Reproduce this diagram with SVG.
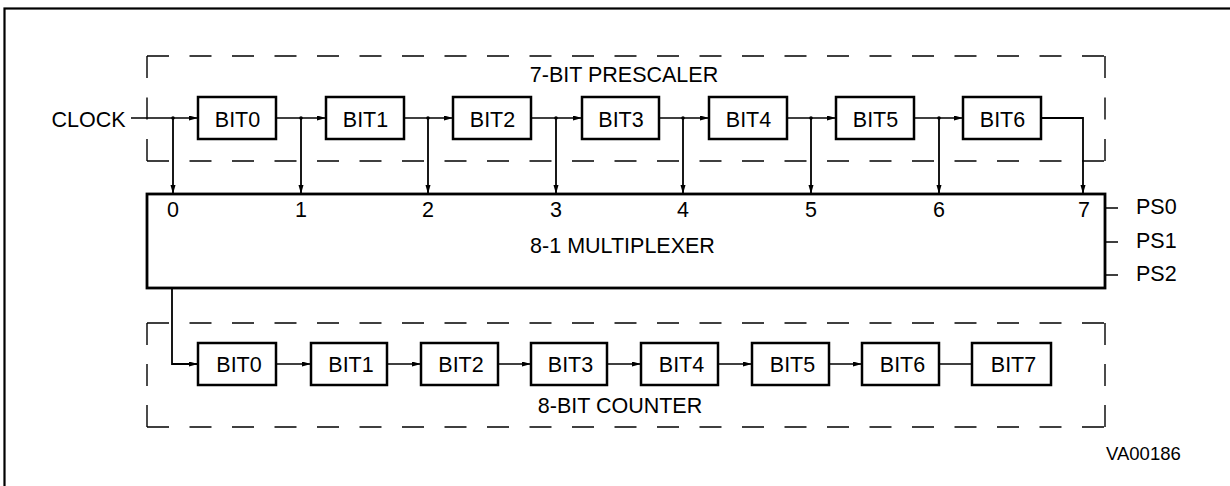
<svg xmlns="http://www.w3.org/2000/svg" width="1230" height="486" viewBox="0 0 1230 486">
<defs>
<marker id="ah" markerUnits="userSpaceOnUse" markerWidth="9" markerHeight="6" refX="9" refY="2.5" orient="auto">
<path d="M0,0 L9,2.5 L0,5 z" fill="#000"/>
</marker>
<style>
text{font-family:"Liberation Sans",Arial,sans-serif;font-size:21.5px;fill:#000}
.box{fill:#fff;stroke:#000;stroke-width:2.5}
.mux{fill:#fff;stroke:#000;stroke-width:2.8}
.w{fill:none;stroke:#000;stroke-width:1.4}
.v{fill:none;stroke:#000;stroke-width:1.8}
.dh{fill:none;stroke:#000;stroke-width:1.4;stroke-dasharray:22 20.5}
.dv{fill:none;stroke:#000;stroke-width:1.4;stroke-dasharray:22 19.5}
.dv2{fill:none;stroke:#000;stroke-width:1.4;stroke-dasharray:22 19}
.c{text-anchor:middle}
</style>
</defs>
<rect x="4.5" y="8.5" width="1240" height="500" fill="none" stroke="#000" stroke-width="2.2"/>

<g id="prescaler-frame">
<path class="dh" d="M147,56 H1105"/>
<path class="dh" d="M147,161 H1105"/>
<path class="dv" d="M147,56 V161"/>
<path class="dv" d="M1105,56 V161"/>
<text class="c" x="624" y="82">7-BIT PRESCALER</text>
</g>

<g id="counter-frame">
<path class="dh" d="M147,323 H1105"/>
<path class="dh" d="M147,427 H1105"/>
<path class="dv2" d="M147,323 V427"/>
<path class="dv2" d="M1105,323 V427"/>
<text class="c" x="620" y="413">8-BIT COUNTER</text>
</g>

<g id="clock"><text x="125.5" y="126.5" text-anchor="end">CLOCK</text></g>

<g id="connectors">
<path class="w" d="M131,118 H198" marker-end="url(#ah)"/>
<path class="w" d="M276,118 H326" marker-end="url(#ah)"/>
<path class="w" d="M404,118 H453" marker-end="url(#ah)"/>
<path class="w" d="M531,118 H582" marker-end="url(#ah)"/>
<path class="w" d="M659,118 H709" marker-end="url(#ah)"/>
<path class="w" d="M787,118 H836" marker-end="url(#ah)"/>
<path class="w" d="M914,118 H963" marker-end="url(#ah)"/>
<path class="v" d="M173,118 V194" marker-end="url(#ah)"/>
<path class="v" d="M301,118 V194" marker-end="url(#ah)"/>
<path class="v" d="M428,118 V194" marker-end="url(#ah)"/>
<path class="v" d="M556,118 V194" marker-end="url(#ah)"/>
<path class="v" d="M683,118 V194" marker-end="url(#ah)"/>
<path class="v" d="M811,118 V194" marker-end="url(#ah)"/>
<path class="v" d="M939,118 V194" marker-end="url(#ah)"/>
<path class="v" d="M1041,118 H1083 V194" marker-end="url(#ah)"/>
<g fill="#000">
<circle cx="173" cy="118" r="1.8"/><circle cx="301" cy="118" r="1.8"/><circle cx="428" cy="118" r="1.8"/><circle cx="556" cy="118" r="1.8"/><circle cx="683" cy="118" r="1.8"/><circle cx="811" cy="118" r="1.8"/><circle cx="939" cy="118" r="1.8"/>
</g>
<path class="v" d="M172,288 V364 H198" marker-end="url(#ah)"/>
<path class="w" d="M276,364 H311" marker-end="url(#ah)"/>
<path class="w" d="M387,364 H421" marker-end="url(#ah)"/>
<path class="w" d="M498,364 H531" marker-end="url(#ah)"/>
<path class="w" d="M607,364 H641" marker-end="url(#ah)"/>
<path class="w" d="M718,364 H752" marker-end="url(#ah)"/>
<path class="w" d="M829,364 H862" marker-end="url(#ah)"/>
<path class="w" d="M939,364 H972"/>
<path class="w" d="M1105,208 H1118 M1105,242 H1118 M1105,275 H1118"/>
</g>

<g id="p0"><rect class="box" x="198" y="97" width="78" height="42"/><text class="c" x="237.5" y="126.5">BIT0</text></g>
<g id="p1"><rect class="box" x="326" y="97" width="78" height="42"/><text class="c" x="365.5" y="126.5">BIT1</text></g>
<g id="p2"><rect class="box" x="453" y="97" width="78" height="42"/><text class="c" x="492.5" y="126.5">BIT2</text></g>
<g id="p3"><rect class="box" x="582" y="97" width="77" height="42"/><text class="c" x="621" y="126.5">BIT3</text></g>
<g id="p4"><rect class="box" x="709" y="97" width="78" height="42"/><text class="c" x="748.5" y="126.5">BIT4</text></g>
<g id="p5"><rect class="box" x="836" y="97" width="78" height="42"/><text class="c" x="875.5" y="126.5">BIT5</text></g>
<g id="p6"><rect class="box" x="963" y="97" width="78" height="42"/><text class="c" x="1002.5" y="126.5">BIT6</text></g>

<g id="mux">
<rect class="mux" x="147" y="194" width="958" height="94"/>
<text class="c" x="173" y="217">0</text>
<text class="c" x="301" y="217">1</text>
<text class="c" x="428" y="217">2</text>
<text class="c" x="556" y="217">3</text>
<text class="c" x="683" y="217">4</text>
<text class="c" x="811" y="217">5</text>
<text class="c" x="939" y="217">6</text>
<text class="c" x="1084" y="217">7</text>
<text class="c" x="622.5" y="253">8-1 MULTIPLEXER</text>
</g>

<g id="ps">
<text x="1136" y="214">PS0</text>
<text x="1136" y="248">PS1</text>
<text x="1136" y="281">PS2</text>
</g>

<g id="c0"><rect class="box" x="198" y="343" width="78" height="42"/><text class="c" x="239" y="372">BIT0</text></g>
<g id="c1"><rect class="box" x="311" y="343" width="76" height="42"/><text class="c" x="351" y="372">BIT1</text></g>
<g id="c2"><rect class="box" x="421" y="343" width="77" height="42"/><text class="c" x="461" y="372">BIT2</text></g>
<g id="c3"><rect class="box" x="531" y="343" width="76" height="42"/><text class="c" x="570.5" y="372">BIT3</text></g>
<g id="c4"><rect class="box" x="641" y="343" width="77" height="42"/><text class="c" x="681.5" y="372">BIT4</text></g>
<g id="c5"><rect class="box" x="752" y="343" width="77" height="42"/><text class="c" x="792.5" y="372">BIT5</text></g>
<g id="c6"><rect class="box" x="862" y="343" width="77" height="42"/><text class="c" x="902.5" y="372">BIT6</text></g>
<g id="c7"><rect class="box" x="972" y="343" width="79" height="42"/><text class="c" x="1013.5" y="372">BIT7</text></g>

<text x="1106" y="460" style="font-size:18.5px">VA00186</text>
</svg>
